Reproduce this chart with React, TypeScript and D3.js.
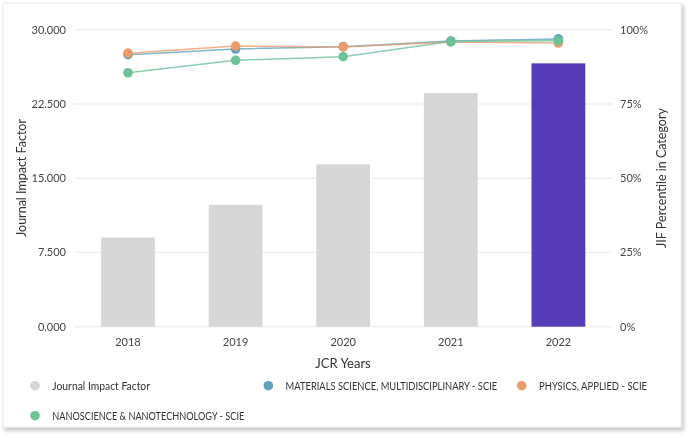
import React from "react";
import * as d3 from "d3";

const years = ["2018", "2019", "2020", "2021", "2022"];
const jifValues = [9.0, 12.3, 16.4, 23.6, 26.6];
const materialsPct = [91.6, 93.5, 94.3, 96.2, 96.9];
const physicsPct = [92.1, 94.5, 94.2, 95.9, 95.5];
const nanoPct = [85.5, 89.7, 90.9, 96.0, 96.3];
const leftTicks = [0, 7.5, 15, 22.5, 30];
const rightTicks = [0, 25, 50, 75, 100];

const W = 691;
const H = 438;
const FONT = "Lato, 'Open Sans', sans-serif";

const lineSeries = [
  { name: "MATERIALS SCIENCE, MULTIDISCIPLINARY - SCIE", values: materialsPct, color: "#5fa2bd" },
  { name: "PHYSICS, APPLIED - SCIE", values: physicsPct, color: "#eb9c6c" },
  { name: "NANOSCIENCE & NANOTECHNOLOGY - SCIE", values: nanoPct, color: "#6cc398" },
];

export default function App() {
  const x = d3.scaleBand<string>().domain(years).range([74.2, 612.2]).paddingInner(0.5).paddingOuter(0.25);
  const yL = d3.scaleLinear().domain([0, 30]).range([326.7, 29.7]);
  const yR = d3.scaleLinear().domain([0, 100]).range([326.7, 29.7]);
  const fmtL = (v: number) => v.toFixed(3);
  const line = d3.line<number>().x((_, i) => (x(years[i]) as number) + x.bandwidth() / 2).y((d) => yR(d));

  const legend = [
    { name: "Journal Impact Factor", color: "#d6d6d6", cx: 35, cy: 385.7, w: 97.7 },
    { name: lineSeries[0].name, color: lineSeries[0].color, cx: 268.3, cy: 385.7, w: 211.6 },
    { name: lineSeries[1].name, color: lineSeries[1].color, cx: 521.7, cy: 385.7, w: 108 },
    { name: lineSeries[2].name, color: lineSeries[2].color, cx: 35, cy: 415.7, w: 192 },
  ];

  return (
    <div style={{ position: "fixed", left: 0, top: 0 }}>
      <svg width={W} height={H} style={{ display: "block", fontFamily: FONT }}>
        <defs>
          <filter id="sh" x="-5%" y="-5%" width="110%" height="115%">
            <feDropShadow dx="2" dy="3" stdDeviation="2" floodColor="#000" floodOpacity="0.25" />
          </filter>
        </defs>
        <rect x={3} y={3} width={678} height={424} fill="#fff" stroke="#ececec" strokeWidth={1} filter="url(#sh)" />
        {leftTicks.map((t) => (
          <line key={t} x1={74.2} x2={612.2} y1={yL(t)} y2={yL(t)} stroke="#efefef" strokeWidth={1.5} />
        ))}
        {leftTicks.map((t) => (
          <text key={"l" + t} x={66} y={yL(t)} dy="0.35em" textAnchor="end" fontSize={11} fill="#444">
            {fmtL(t)}
          </text>
        ))}
        {rightTicks.map((t) => (
          <text key={"r" + t} x={620} y={yR(t)} dy="0.35em" textAnchor="start" fontSize={11} fill="#444">
            {t + "%"}
          </text>
        ))}
        {years.map((yr, i) => (
          <rect
            key={yr}
            x={x(yr)}
            y={yL(jifValues[i])}
            width={x.bandwidth()}
            height={yL(0) - yL(jifValues[i])}
            fill={i === years.length - 1 ? "#563cb9" : "#d6d6d6"}
          />
        ))}
        {years.map((yr) => (
          <text key={"x" + yr} x={(x(yr) as number) + x.bandwidth() / 2} y={341.7} dy="0.35em" textAnchor="middle" fontSize={11} fill="#444">
            {yr}
          </text>
        ))}
        {lineSeries.map((s) => (
          <g key={s.name}>
            <path d={line(s.values) || ""} fill="none" stroke={s.color} strokeWidth={1.5} strokeOpacity={0.8} />
            {s.values.map((v, i) => (
              <circle key={i} cx={(x(years[i]) as number) + x.bandwidth() / 2} cy={yR(v)} r={4.8} fill={s.color} />
            ))}
          </g>
        ))}
        <text x={343} y={363.3} dy="0.35em" textAnchor="middle" fontSize={13} fill="#333">JCR Years</text>
        <text transform={`translate(22,178) rotate(-90)`} textAnchor="middle" dy="0.35em" fontSize={12.5} fill="#333">
          Journal Impact Factor
        </text>
        <text transform={`translate(662,178) rotate(-90)`} textAnchor="middle" dy="0.35em" fontSize={12.5} fill="#333">
          JIF Percentile in Category
        </text>
        {legend.map((l) => (
          <g key={l.name}>
            <circle cx={l.cx} cy={l.cy} r={4.8} fill={l.color} />
            <text x={l.cx + 17.3} y={l.cy} dy="0.35em" fontSize={11} fill="#333" textLength={l.w} lengthAdjust="spacingAndGlyphs">
              {l.name}
            </text>
          </g>
        ))}
      </svg>
    </div>
  );
}
